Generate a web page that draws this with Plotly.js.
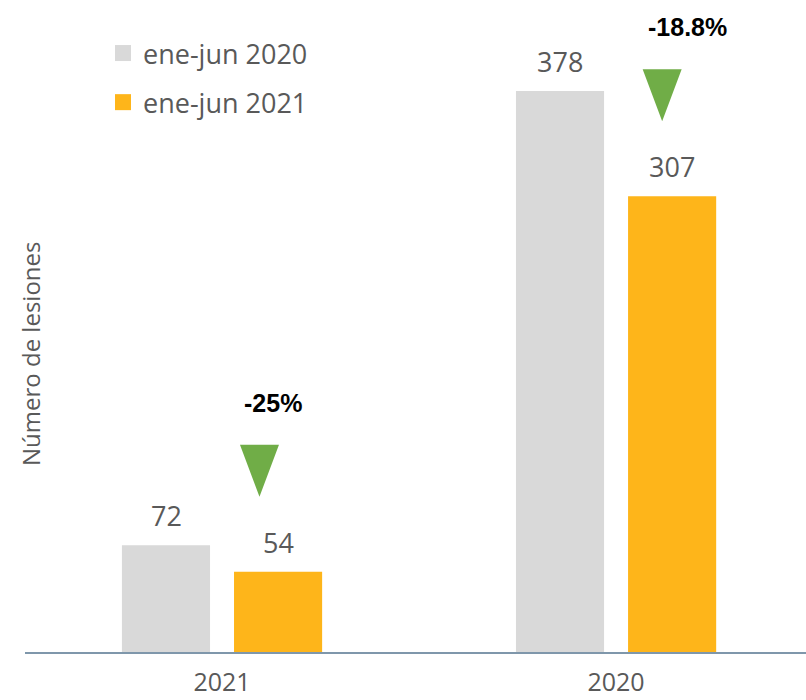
<!DOCTYPE html>
<html>
<head>
<meta charset="utf-8">
<script src="https://cdn.plot.ly/plotly-3.0.1.min.js"></script>
<style>html,body{margin:0;padding:0;background:#fff;}</style>
</head>
<body>
<div id="chart" style="width:806px;height:700px;"></div>
<script>
// ---- data ----
const categories = ['2021', '2020'];
const seriesNames = ['ene-jun 2020', 'ene-jun 2021'];
const vals2020 = [72, 378];
const vals2021 = [54, 307];
const pctChange = ['-25%', '-18.8%'];

// ---- style / layout config ----
const colGray = '#d9d9d9';
const colOrange = '#feb51a';
const colGreen = '#70ad47';
const txtGray = '#595959';
const W = 806, H = 700;
const M = {l: 25, r: 0, t: 0, b: 48};
const plotW = W - M.l - M.r, plotH = H - M.t - M.b;
const xRange = [-0.5, 1.482];
const yRange = [0, 439.3];
const pxPerX = plotW / (xRange[1] - xRange[0]);
const pxPerY = plotH / (yRange[1] - yRange[0]);
const barOffset = 56 / pxPerX;          // bar centre offset from category centre
const pctDx = [0.13, 0.18];             // label offsets for percent text
const triDx = [0.095, 0.117];           // triangle centre offsets
const font = 'Open Sans, Lato, sans-serif';

const xIdx = categories.map((c, i) => i);

const traces = [
  {type: 'bar', x: xIdx, y: vals2020, name: seriesNames[0], marker: {color: colGray}, showlegend: false, hoverinfo: 'none'},
  {type: 'bar', x: xIdx, y: vals2021, name: seriesNames[1], marker: {color: colOrange}, showlegend: false, hoverinfo: 'none'},
  {type: 'scatter', x: [null], y: [null], mode: 'markers', name: seriesNames[0], legendgroup: 'a',
   marker: {symbol: 'square', size: 18, color: colGray}},
  {type: 'scatter', x: [null], y: [null], mode: 'markers', name: seriesNames[1], legendgroup: 'b',
   marker: {symbol: 'square', size: 18, color: colOrange}}
];

const annotations = [];
[vals2020, vals2021].forEach((vals, s) => {
  vals.forEach((v, i) => {
    annotations.push({
      x: i + (s === 0 ? -barOffset : barOffset), y: v, xref: 'x', yref: 'y',
      text: String(v), showarrow: false, yanchor: 'bottom', yshift: 9,
      font: {family: font, size: 27, color: txtGray}
    });
  });
});
pctChange.forEach((p, i) => {
  annotations.push({
    x: i + pctDx[i], y: vals2021[i], xref: 'x', yref: 'y',
    text: '<b>' + p + '</b>', showarrow: false, yanchor: 'middle', yshift: 169,
    font: {family: 'Liberation Sans, Arial, sans-serif', size: 25, color: '#000'}
  });
});
annotations.push({
  xref: 'paper', yref: 'paper', x: (30 - M.l) / plotW, y: (H - M.b - 354) / plotH,
  xanchor: 'center', yanchor: 'middle', showarrow: false, textangle: -90,
  text: 'Número de lesiones', font: {family: font, size: 24, color: txtGray}
});

const triTop = 127 / pxPerY, triBot = 75 / pxPerY, triHalf = 19.5 / pxPerX;
const shapes = vals2021.map((v, i) => {
  const cx = i + triDx[i];
  return {
    type: 'path', xref: 'x', yref: 'y',
    path: `M ${cx - triHalf},${v + triTop} L ${cx + triHalf},${v + triTop} L ${cx},${v + triBot} Z`,
    fillcolor: colGreen, line: {width: 0}
  };
});

const layout = {
  width: W, height: H, margin: M,
  paper_bgcolor: '#fff', plot_bgcolor: '#fff',
  barmode: 'group', bargap: 0.431, bargroupgap: 0.214,
  xaxis: {
    range: xRange, tickvals: xIdx, ticktext: categories,
    showline: true, linecolor: '#7f97ab', linewidth: 2,
    showgrid: false, zeroline: false, ticks: '', ticklabelstandoff: 7,
    tickfont: {family: font, size: 25, color: txtGray}, fixedrange: true
  },
  yaxis: {range: yRange, visible: false, fixedrange: true},
  showlegend: true,
  legend: {
    xref: 'paper', yref: 'paper', x: (103 - M.l) / plotW, y: 1 - 29 / plotH,
    xanchor: 'left', yanchor: 'top', tracegroupgap: 11,
    font: {family: font, size: 27, color: txtGray}, bgcolor: 'rgba(0,0,0,0)'
  },
  annotations: annotations,
  shapes: shapes
};

Plotly.newPlot('chart', traces, layout, {displayModeBar: false, staticPlot: true});
</script>
</body>
</html>
